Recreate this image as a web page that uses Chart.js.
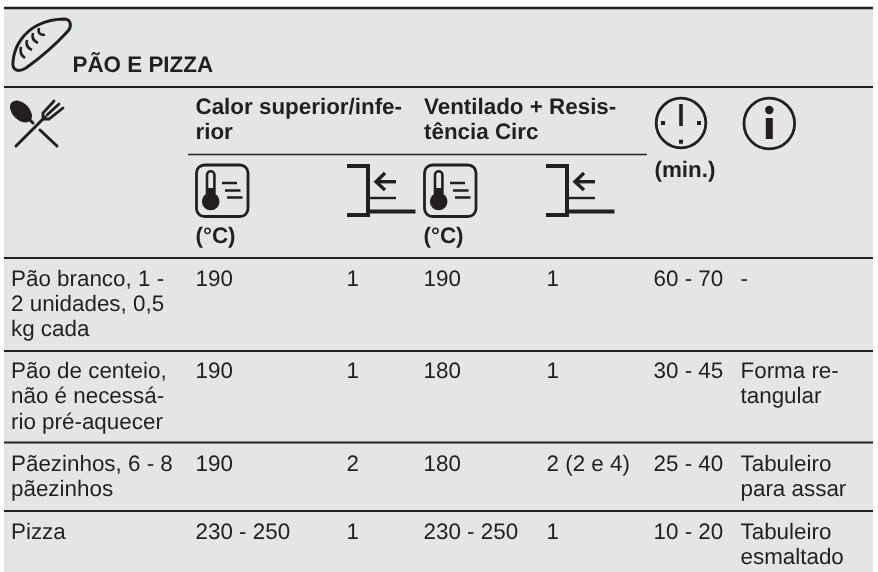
<!DOCTYPE html>
<html>
<head>
<meta charset="utf-8">
<style>
  html, body { margin: 0; padding: 0; background: #fff; }
  canvas { display: block; }
</style>
<script src="https://cdn.jsdelivr.net/npm/chart.js@4/dist/chart.umd.min.js"></script>
</head>
<body>
<canvas id="breadTable" width="878" height="572"></canvas>
<script>
const title = "PÃO E PIZZA";
const groupHeaders = [["Calor superior/infe-", "rior"], ["Ventilado + Resis-", "tência Circ"]];
const unitLabels = ["(°C)", "(°C)", "(min.)"];

const dishes = [
  ["Pão branco, 1 -", "2 unidades, 0,5", "kg cada"],
  ["Pão de centeio,", "não é necessá-", "rio pré-aquecer"],
  ["Pãezinhos, 6 - 8", "pãezinhos"],
  ["Pizza"],
];
const topBottomTemp = ["190", "190", "190", "230 - 250"];
const topBottomShelf = ["1", "1", "2", "1"];
const fanTemp = ["190", "180", "180", "230 - 250"];
const fanShelf = ["1", "1", "2 (2 e 4)", "1"];
const times = ["60 - 70", "30 - 45", "25 - 40", "10 - 20"];
const notes = [["-"], ["Forma re-", "tangular"], ["Tabuleiro", "para assar"], ["Tabuleiro", "esmaltado"]];

// layout, in page pixels (the scales below run 1:1 with the canvas)
const INK = "#231f20";
const PANEL = "#e4e5e7";
const bodyFont = '22.4px "Liberation Sans", Arial, sans-serif';
const boldFont = 'bold 22.4px "Liberation Sans", Arial, sans-serif';
const columnX = [11, 195.5, 346.5, 423.5, 546.5, 653.5, 740.5];
const rowBaseline = [285.5, 378, 470.5, 538.5];
const lineStep = 25.3;

const columns = [dishes, topBottomTemp, topBottomShelf, fanTemp, fanShelf, times, notes];

const cellDatasets = columns.map((col, c) => ({
  label: "col" + c,
  cells: col.map((v) => (Array.isArray(v) ? v : [v])),
  data: col.map((v, r) => ({ x: columnX[c], y: rowBaseline[r] })),
  pointRadius: 0,
  showLine: false,
}));

const headerCells = [
  { font: boldFont, x: 72.5, y: 72, lines: [title] },
  { font: boldFont, x: 195.5, y: 114, lines: groupHeaders[0] },
  { font: boldFont, x: 424, y: 114, lines: groupHeaders[1] },
  { font: boldFont, x: 195.5, y: 243, lines: [unitLabels[0]] },
  { font: boldFont, x: 423.5, y: 243, lines: [unitLabels[1]] },
  { font: boldFont, x: 654.5, y: 177, lines: [unitLabels[2]] },
];
const headerDataset = {
  label: "header",
  cells: headerCells.map((h) => h.lines),
  fonts: headerCells.map((h) => h.font),
  data: headerCells.map((h) => ({ x: h.x, y: h.y })),
  pointRadius: 0,
  showLine: false,
};

function rule(x1, x2, y, width) {
  return {
    label: "rule",
    data: [{ x: x1, y: y }, { x: x2, y: y }],
    showLine: true,
    borderColor: INK,
    borderWidth: width,
    pointRadius: 0,
  };
}
const ruleDatasets = [
  rule(4, 873, 8, 2.4),
  rule(4, 873, 87, 2),
  rule(188, 647, 154.5, 1.6),
  rule(4, 873, 258, 2),
  rule(4, 873, 351, 2),
  rule(4, 873, 442.5, 2),
  rule(4, 873, 511, 2),
];

function drawBread(ctx) {
  ctx.lineWidth = 3;
  ctx.beginPath();
  ctx.moveTo(13, 62);
  ctx.bezierCurveTo(14, 46, 24, 32, 38, 25);
  ctx.bezierCurveTo(48, 20, 58, 19, 65, 19);
  ctx.bezierCurveTo(71, 20, 72, 26, 68, 31);
  ctx.bezierCurveTo(58, 42, 40, 58, 26, 68);
  ctx.bezierCurveTo(18, 73, 12, 70, 13, 62);
  ctx.closePath();
  ctx.stroke();
  ctx.lineWidth = 2.6;
  [[21, 47, 25, 58], [27, 40, 32, 50], [33, 33, 38, 43], [39, 28, 45, 35]].forEach((m) => {
    ctx.beginPath();
    ctx.moveTo(m[0], m[1]);
    ctx.quadraticCurveTo(m[0] - 2, m[1] + 7, m[2], m[3]);
    ctx.stroke();
  });
}

function drawCutlery(ctx) {
  // spoon
  ctx.save();
  ctx.translate(21, 111.5);
  ctx.rotate(Math.PI / 4);
  ctx.beginPath();
  ctx.ellipse(0, 0, 13, 8.5, 0, 0, Math.PI * 2);
  ctx.fill();
  ctx.restore();
  ctx.lineWidth = 3;
  ctx.lineCap = "round";
  ctx.beginPath();
  ctx.moveTo(28, 118);
  ctx.lineTo(33, 123);
  ctx.moveTo(40, 130);
  ctx.lineTo(57, 146);
  ctx.moveTo(16, 146);
  ctx.lineTo(45, 117);
  ctx.stroke();
  // fork head
  ctx.lineWidth = 2.8;
  ctx.beginPath();
  ctx.moveTo(43, 119);
  ctx.lineTo(43, 113);
  ctx.lineTo(54, 101);
  ctx.moveTo(43, 119);
  ctx.lineTo(49, 119);
  ctx.lineTo(63, 108);
  ctx.moveTo(47, 115);
  ctx.lineTo(59, 104);
  ctx.stroke();
  ctx.lineCap = "butt";
}

function drawThermo(ctx, ox) {
  ctx.save();
  ctx.translate(ox, 0);
  ctx.lineWidth = 2.8;
  ctx.beginPath();
  ctx.roundRect(196.5, 165, 51.5, 51.5, 8);
  ctx.stroke();
  ctx.lineWidth = 2.6;
  ctx.beginPath();
  ctx.moveTo(207, 196);
  ctx.lineTo(207, 175);
  ctx.arc(210.7, 175, 3.7, Math.PI, 0);
  ctx.lineTo(214.4, 196);
  ctx.stroke();
  ctx.beginPath();
  ctx.arc(210.7, 201.5, 8.8, 0, Math.PI * 2);
  ctx.fill();
  ctx.fillRect(207, 188, 7.4, 8);
  ctx.beginPath();
  ctx.moveTo(222, 183);
  ctx.lineTo(237, 183);
  ctx.moveTo(225, 190.5);
  ctx.lineTo(240.5, 190.5);
  ctx.moveTo(227, 197.5);
  ctx.lineTo(242.5, 197.5);
  ctx.stroke();
  ctx.restore();
}

function drawShelf(ctx, ox) {
  ctx.save();
  ctx.translate(ox, 0);
  ctx.fillRect(347, 164, 23, 4);
  ctx.fillRect(366, 164, 4, 53);
  ctx.fillRect(347, 213, 23, 4);
  ctx.fillRect(370, 209.5, 45.5, 4);
  ctx.fillRect(370, 196.8, 26, 2.4);
  ctx.fillRect(377, 180, 19, 3.4);
  ctx.lineWidth = 3.4;
  ctx.beginPath();
  ctx.moveTo(385, 173);
  ctx.lineTo(376, 181.7);
  ctx.lineTo(385, 190);
  ctx.stroke();
  ctx.restore();
}

function drawClock(ctx) {
  ctx.lineWidth = 2.8;
  ctx.beginPath();
  ctx.arc(681, 123, 24.8, 0, Math.PI * 2);
  ctx.stroke();
  ctx.fillRect(679.2, 104, 3.6, 22);
  ctx.fillRect(661, 121, 4, 4);
  ctx.fillRect(697, 121, 4, 4);
  ctx.fillRect(679, 139.7, 4, 4);
}

function drawInfo(ctx) {
  ctx.lineWidth = 2.8;
  ctx.beginPath();
  ctx.arc(769.3, 123.5, 25.3, 0, Math.PI * 2);
  ctx.stroke();
  ctx.beginPath();
  ctx.arc(769.3, 110, 4.2, 0, Math.PI * 2);
  ctx.fill();
  ctx.fillRect(765.8, 118, 7, 21);
}

const tablePlugin = {
  id: "tablePlugin",
  beforeDatasetsDraw(chart) {
    const { ctx, scales } = chart;
    ctx.save();
    ctx.fillStyle = PANEL;
    const left = scales.x.getPixelForValue(4);
    const right = scales.x.getPixelForValue(873);
    const top = scales.y.getPixelForValue(8);
    const bottom = scales.y.getPixelForValue(572);
    ctx.fillRect(left, top, right - left, bottom - top);
    ctx.restore();
  },
  afterDatasetsDraw(chart) {
    const { ctx } = chart;
    ctx.save();
    ctx.fillStyle = INK;
    ctx.strokeStyle = INK;
    ctx.textBaseline = "alphabetic";
    ctx.textAlign = "left";
    ctx.textRendering = "geometricPrecision";
    chart.data.datasets.forEach((ds, i) => {
      if (!ds.cells) return;
      chart.getDatasetMeta(i).data.forEach((pt, r) => {
        ctx.font = ds.fonts ? ds.fonts[r] : bodyFont;
        ds.cells[r].forEach((line, n) => {
          ctx.fillText(line, pt.x, pt.y + n * lineStep);
        });
      });
    });
    drawBread(ctx);
    drawCutlery(ctx);
    drawThermo(ctx, 0);
    drawThermo(ctx, 228);
    drawShelf(ctx, 0);
    drawShelf(ctx, 199);
    drawClock(ctx);
    drawInfo(ctx);
    ctx.restore();
  },
};

new Chart(document.getElementById("breadTable"), {
  type: "scatter",
  data: { datasets: [...ruleDatasets, ...cellDatasets, headerDataset] },
  options: {
    responsive: false,
    animation: false,
    layout: { padding: 0 },
    plugins: { legend: { display: false }, tooltip: { enabled: false } },
    scales: {
      x: { type: "linear", min: 0, max: 878, display: false },
      y: { type: "linear", min: 0, max: 572, reverse: true, display: false },
    },
  },
  plugins: [tablePlugin],
});
</script>
</body>
</html>
